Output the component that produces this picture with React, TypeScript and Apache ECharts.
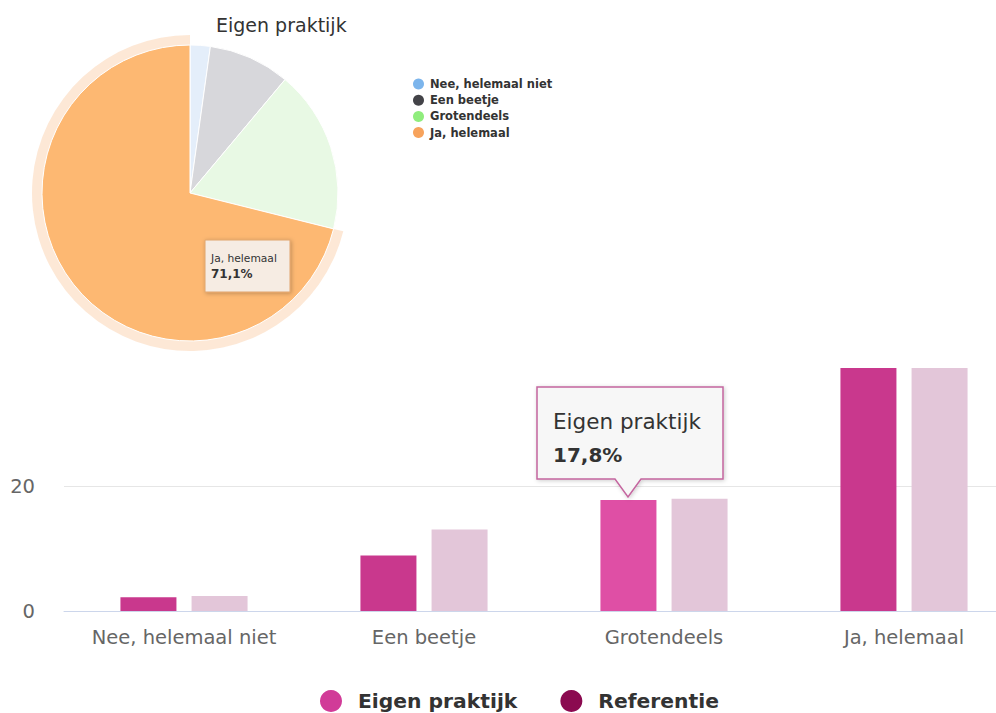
import React, { useEffect, useRef } from "react";
import * as echarts from "echarts";

const categories = ["Nee, helemaal niet", "Een beetje", "Grotendeels", "Ja, helemaal"];
const eigenValues = [2.2, 8.9, 17.8, 71.1];
const referentieValues = [2.4, 13.1, 18.0, 66.5];
const pieFaded = ["#e4eefa", "#d7d7db", "#e8f9e4", "#fdb872"];
const pieLegendColors = ["#7cb5ec", "#434348", "#90ed7d", "#f7a35c"];
const yTicks = [0, 20];

const FONT = "DejaVu Sans";

export default function App() {
  const ref = useRef<HTMLDivElement>(null);
  useEffect(() => {
    if (!ref.current) return;
    const chart = echarts.init(ref.current, null, { renderer: "svg" });
    const option: any = {
      animation: false,
      textStyle: { fontFamily: FONT },
      title: {
        text: "Eigen praktijk",
        left: 211,
        top: 10,
        textStyle: { fontFamily: FONT, fontSize: 19, fontWeight: "normal", color: "#333" },
      },
      legend: [
        {
          orient: "vertical",
          left: 408,
          top: 73,
          icon: "circle",
          itemWidth: 11,
          itemHeight: 11,
          itemGap: 4.2,
          selectedMode: false,
          textStyle: { fontFamily: FONT, fontSize: 11.5, fontWeight: "bold", color: "#333", padding: [0, 0, 0, 1] },
          data: categories.map((c, i) => ({ name: c, itemStyle: { color: pieLegendColors[i] } })),
        },
        {
          orient: "horizontal",
          left: 315,
          top: 685,
          icon: "circle",
          itemWidth: 22,
          itemHeight: 22,
          itemGap: 43,
          selectedMode: false,
          textStyle: { fontFamily: FONT, fontSize: 20.3, fontWeight: "bold", color: "#333", padding: [0, 0, 0, 11] },
          data: [
            { name: "Eigen praktijk", itemStyle: { color: "#d13b98" } },
            { name: "Referentie", itemStyle: { color: "#8b0a50" } },
          ],
        },
      ],
      grid: { left: 64, top: 368, width: 960, height: 243, containLabel: false },
      xAxis: {
        type: "category",
        data: categories,
        axisLine: { lineStyle: { color: "#ccd6eb" } },
        axisTick: { show: false },
        axisLabel: { fontFamily: FONT, fontSize: 19.5, color: "#666", margin: 16, interval: 0 },
      },
      yAxis: {
        type: "value",
        min: 0,
        max: 39,
        interval: 20,
        axisLabel: {
          fontFamily: FONT,
          fontSize: 19.5,
          color: "#666",
          margin: 29,
          showMaxLabel: false,
          formatter: (v: number) => (yTicks.includes(v) ? String(v) : ""),
        },
        splitLine: { lineStyle: { color: "#e6e6e6" }, showMaxLine: false },
      },
      series: [
        {
          type: "pie",
          name: "halo",
          silent: true,
          center: [190, 193],
          radius: [148, 158],
          label: { show: false },
          labelLine: { show: false },
          data: categories.map((c, i) => ({
            name: c,
            value: eigenValues[i],
            itemStyle: { color: i === 3 ? "rgba(247,163,92,0.25)" : "rgba(0,0,0,0)" },
          })),
        },
        {
          type: "pie",
          name: "Eigen praktijk pie",
          center: [190, 193],
          radius: [0, 148],
          startAngle: 90,
          label: { show: false },
          labelLine: { show: false },
          itemStyle: { borderColor: "#ffffff", borderWidth: 1 },
          data: categories.map((c, i) => ({
            name: c,
            value: eigenValues[i],
            itemStyle: { color: pieFaded[i] },
          })),
        },
        {
          type: "bar",
          name: "Eigen praktijk",
          barWidth: 56,
          barGap: "27%",
          itemStyle: { color: "#c9388d" },
          data: eigenValues.map((v, i) =>
            i === 2 ? { value: v, itemStyle: { color: "#df4fa5" } } : v
          ),
        },
        {
          type: "bar",
          name: "Referentie",
          barWidth: 56,
          itemStyle: { color: "#e3c6d9" },
          data: referentieValues,
        },
      ],
      graphic: [
        {
          type: "rect",
          shape: { x: 205, y: 240, width: 85, height: 52 },
          style: {
            fill: "#f6ece3",
            stroke: "#e0a46c",
            lineWidth: 1,
            shadowBlur: 4,
            shadowOffsetX: 1,
            shadowOffsetY: 1,
            shadowColor: "rgba(0,0,0,0.25)",
          },
          z: 100,
        },
        {
          type: "text",
          x: 211,
          y: 258,
          style: { text: "Ja, helemaal", fontFamily: FONT, fontSize: 10.7, fill: "#333", verticalAlign: "middle" },
          z: 101,
        },
        {
          type: "text",
          x: 211,
          y: 274,
          style: { text: "71,1%", fontFamily: FONT, fontSize: 12, fontWeight: "bold", fill: "#333", verticalAlign: "middle" },
          z: 101,
        },
        {
          type: "polygon",
          shape: {
            points: [
              [537, 387],
              [723, 387],
              [723, 479],
              [641, 479],
              [628, 497],
              [615, 479],
              [537, 479],
            ],
          },
          style: {
            fill: "#f7f7f7",
            stroke: "#c4669f",
            lineWidth: 1.5,
            shadowBlur: 4,
            shadowOffsetX: 1,
            shadowOffsetY: 1,
            shadowColor: "rgba(0,0,0,0.2)",
          },
          z: 100,
        },
        {
          type: "text",
          x: 553,
          y: 421,
          style: { text: "Eigen praktijk", fontFamily: FONT, fontSize: 21.5, fill: "#333", verticalAlign: "middle" },
          z: 101,
        },
        {
          type: "text",
          x: 553,
          y: 455,
          style: { text: "17,8%", fontFamily: FONT, fontSize: 20, fontWeight: "bold", fill: "#333", verticalAlign: "middle" },
          z: 101,
        },
      ],
    };
    chart.setOption(option);
    return () => chart.dispose();
  }, []);
  return (
    <div style={{ position: "fixed", left: 0, top: 0, width: 996, height: 713, overflow: "hidden", background: "#fff" }}>
      <div ref={ref} style={{ position: "absolute", left: 0, top: 0, width: 1030, height: 713 }} />
    </div>
  );
}
